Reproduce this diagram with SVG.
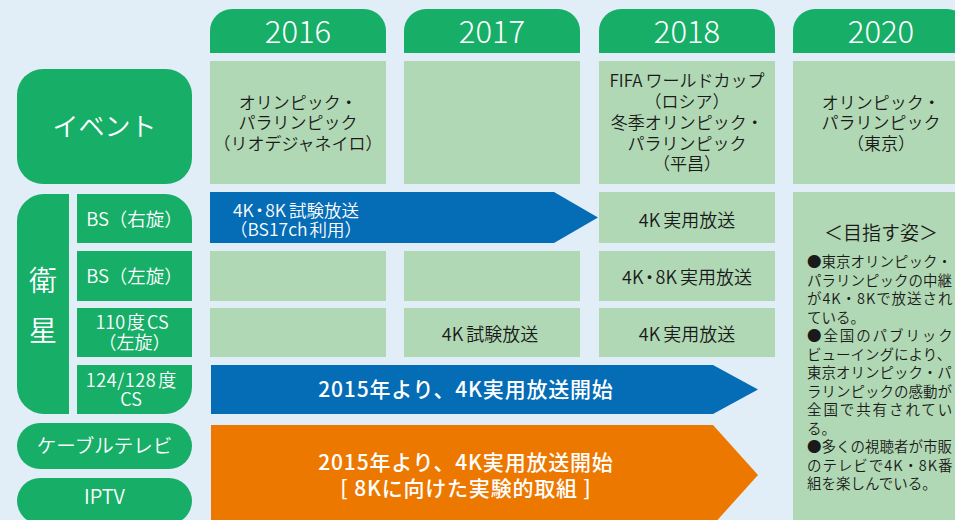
<svg xmlns="http://www.w3.org/2000/svg" width="955" height="520" viewBox="0 0 955 520">
<style>
text{font-family:'Noto Sans CJK JP','Noto Sans',sans-serif;font-weight:350;}
.g{fill:#17ae68;}
.lg{fill:#b1d8b4;}
.bl{fill:#056cb6;}
.or{fill:#ed7800;}
.yr{fill:#fff;font-size:31px;text-anchor:middle;font-weight:300;}
.wt{fill:#fff;text-anchor:middle;}
.bk{fill:#1a1a1a;text-anchor:middle;font-size:17px;}
.cell{fill:#1a1a1a;text-anchor:middle;font-size:18px;}
.note{fill:#1a1a1a;font-size:14.5px;}
.big{fill:#fff;text-anchor:middle;font-size:21px;font-weight:500;letter-spacing:0.8px;}
</style>
<rect width="955" height="520" fill="#e2eef7"/>

<g id="headers">
<g id="year2016"><path class="g" d="M210,53V31A22,22 0 0 1 232,9H364A22,22 0 0 1 386,31V53Z"/><text class="yr" x="298" y="42.5">2016</text></g>
<g id="year2017"><path class="g" d="M404,53V31A22,22 0 0 1 426,9H558A22,22 0 0 1 580,31V53Z"/><text class="yr" x="492" y="42.5">2017</text></g>
<g id="year2018"><path class="g" d="M599,53V31A22,22 0 0 1 621,9H753A22,22 0 0 1 775,31V53Z"/><text class="yr" x="687" y="42.5">2018</text></g>
<g id="year2020"><path class="g" d="M793,53V31A22,22 0 0 1 815,9H947A22,22 0 0 1 969,31V53Z"/><text class="yr" x="881" y="42.5">2020</text></g>
</g>

<g id="labels">
<g id="event"><rect class="g" x="17" y="69" width="175" height="115" rx="26"/><text class="wt" x="104.5" y="135.5" font-size="26">イベント</text></g>
<g id="eisei"><path class="g" d="M69,194V414H44A27,27 0 0 1 17,387V221A27,27 0 0 1 44,194Z"/><text class="wt" x="43" y="290.5" font-size="28">衛<tspan x="43" y="341">星</tspan></text></g>
<g id="bs-right"><path class="g" d="M77,194H165A27,27 0 0 1 192,221V243H77Z"/><text class="wt" x="134.5" y="226" font-size="18.5">BS（右旋）</text></g>
<g id="bs-left"><rect class="g" x="77" y="251" width="115" height="50"/><text class="wt" x="134.5" y="282.5" font-size="18.5">BS（左旋）</text></g>
<g id="cs110"><rect class="g" x="77" y="308" width="115" height="49"/><text class="wt" x="132" y="328.5" font-size="18">110<tspan dx="2">度</tspan><tspan dx="2">CS</tspan><tspan x="134.5" y="348.5">（左旋）</tspan></text></g>
<g id="cs124"><path class="g" d="M77,365H192V387A27,27 0 0 1 165,414H77Z"/><text class="wt" x="131" y="386.5" font-size="18"><tspan letter-spacing="0.6">124/128</tspan><tspan dx="2">度</tspan><tspan x="131" y="405.5">CS</tspan></text></g>
<g id="cable"><rect class="g" x="17" y="423" width="175" height="46" rx="23"/><text class="wt" x="104.5" y="452.5" font-size="19.5">ケーブルテレビ</text></g>
<g id="iptv"><rect class="g" x="17" y="478" width="175" height="46" rx="23"/><text class="wt" x="104.5" y="504" font-size="20">IPTV</text></g>
</g>

<g id="events">
<g id="ev2016"><rect class="lg" x="210" y="61" width="176" height="123"/>
<text class="bk" x="298" y="108.5">オリンピック・<tspan x="298" y="128.5">パラリンピック</tspan><tspan x="298" y="149.5">（リオデジャネイロ）</tspan></text></g>
<g id="ev2017"><rect class="lg" x="404" y="61" width="176" height="123"/></g>
<g id="ev2018"><rect class="lg" x="599" y="61" width="176" height="123"/>
<text class="bk" x="687" y="86.5">FIFA<tspan dx="3">ワールドカップ</tspan><tspan x="687" y="107.5">（ロシア）</tspan><tspan x="687" y="128.5">冬季オリンピック・</tspan><tspan x="687" y="149.5">パラリンピック</tspan><tspan x="687" y="170">（平昌）</tspan></text></g>
<g id="ev2020"><rect class="lg" x="793" y="61" width="176" height="123"/>
<text class="bk" x="881" y="108.5">オリンピック・<tspan x="881" y="128.5">パラリンピック</tspan><tspan x="881" y="149.5">（東京）</tspan></text></g>
</g>

<g id="cells">
<g id="c2018-bsr"><rect class="lg" x="599" y="192" width="176" height="51"/><text class="cell" x="687" y="227">4K<tspan dx="3">実用放送</tspan></text></g>
<g id="c2016-bsl"><rect class="lg" x="210" y="251" width="176" height="50"/></g>
<g id="c2017-bsl"><rect class="lg" x="404" y="251" width="176" height="50"/></g>
<g id="c2018-bsl"><rect class="lg" x="599" y="251" width="176" height="50"/><text class="cell" x="687" y="284">4K<tspan dx="-3">・</tspan><tspan dx="-3">8K</tspan><tspan dx="3">実用放送</tspan></text></g>
<g id="c2016-110"><rect class="lg" x="210" y="308" width="176" height="49"/></g>
<g id="c2017-110"><rect class="lg" x="404" y="308" width="176" height="49"/><text class="cell" x="490" y="341">4K<tspan dx="3">試験放送</tspan></text></g>
<g id="c2018-110"><rect class="lg" x="599" y="308" width="176" height="49"/><text class="cell" x="687" y="341">4K<tspan dx="3">実用放送</tspan></text></g>
</g>

<g id="goal">
<rect class="lg" x="793" y="192" width="176" height="340"/>
<text fill="#1a1a1a" font-size="19" text-anchor="middle" x="881" y="240">＜目指す姿＞</text>
<text class="note" x="807" y="267">●東京オリンピック・<tspan x="807" y="285.5">パラリンピックの中継</tspan><tspan x="807" y="304" letter-spacing="0.95">が4K・8Kで放送され</tspan><tspan x="807" y="322.5">ている。</tspan><tspan x="807" y="341" letter-spacing="1.9">●全国のパブリック</tspan><tspan x="807" y="359.5">ビューイングにより、</tspan><tspan x="807" y="378">東京オリンピック・パ</tspan><tspan x="807" y="396.5">ラリンピックの感動が</tspan><tspan x="807" y="415" letter-spacing="1.9">全国で共有されてい</tspan><tspan x="807" y="433.5">る。</tspan><tspan x="807" y="452">●多くの視聴者が市販</tspan><tspan x="807" y="470.5" letter-spacing="0.95">のテレビで4K・8K番</tspan><tspan x="807" y="489">組を楽しんでいる。</tspan></text>
</g>

<g id="connectors">
<g id="arrow-bs-test"><polygon class="bl" points="210,192 554,192 598,217.5 554,243 210,243"/>
<text class="wt" x="296" y="216.5" font-size="17.5">4K<tspan dx="-3">・</tspan><tspan dx="-3">8K</tspan><tspan dx="3">試験放送</tspan><tspan x="296" y="236">（BS17ch</tspan><tspan dx="2">利用）</tspan></text></g>
<g id="arrow-cs124"><polygon class="bl" points="211,365 713,365 758,389.5 713,414 211,414"/>
<text class="big" x="466" y="397">2015年より、4K実用放送開始</text></g>
<g id="arrow-cable"><polygon class="or" points="211,425 713,425 758,475 713,525 211,525"/>
<text class="big" x="466" y="470">2015年より、4K実用放送開始<tspan x="466" y="496">[ 8Kに向けた実験的取組 ]</tspan></text></g>
</g>
</svg>
